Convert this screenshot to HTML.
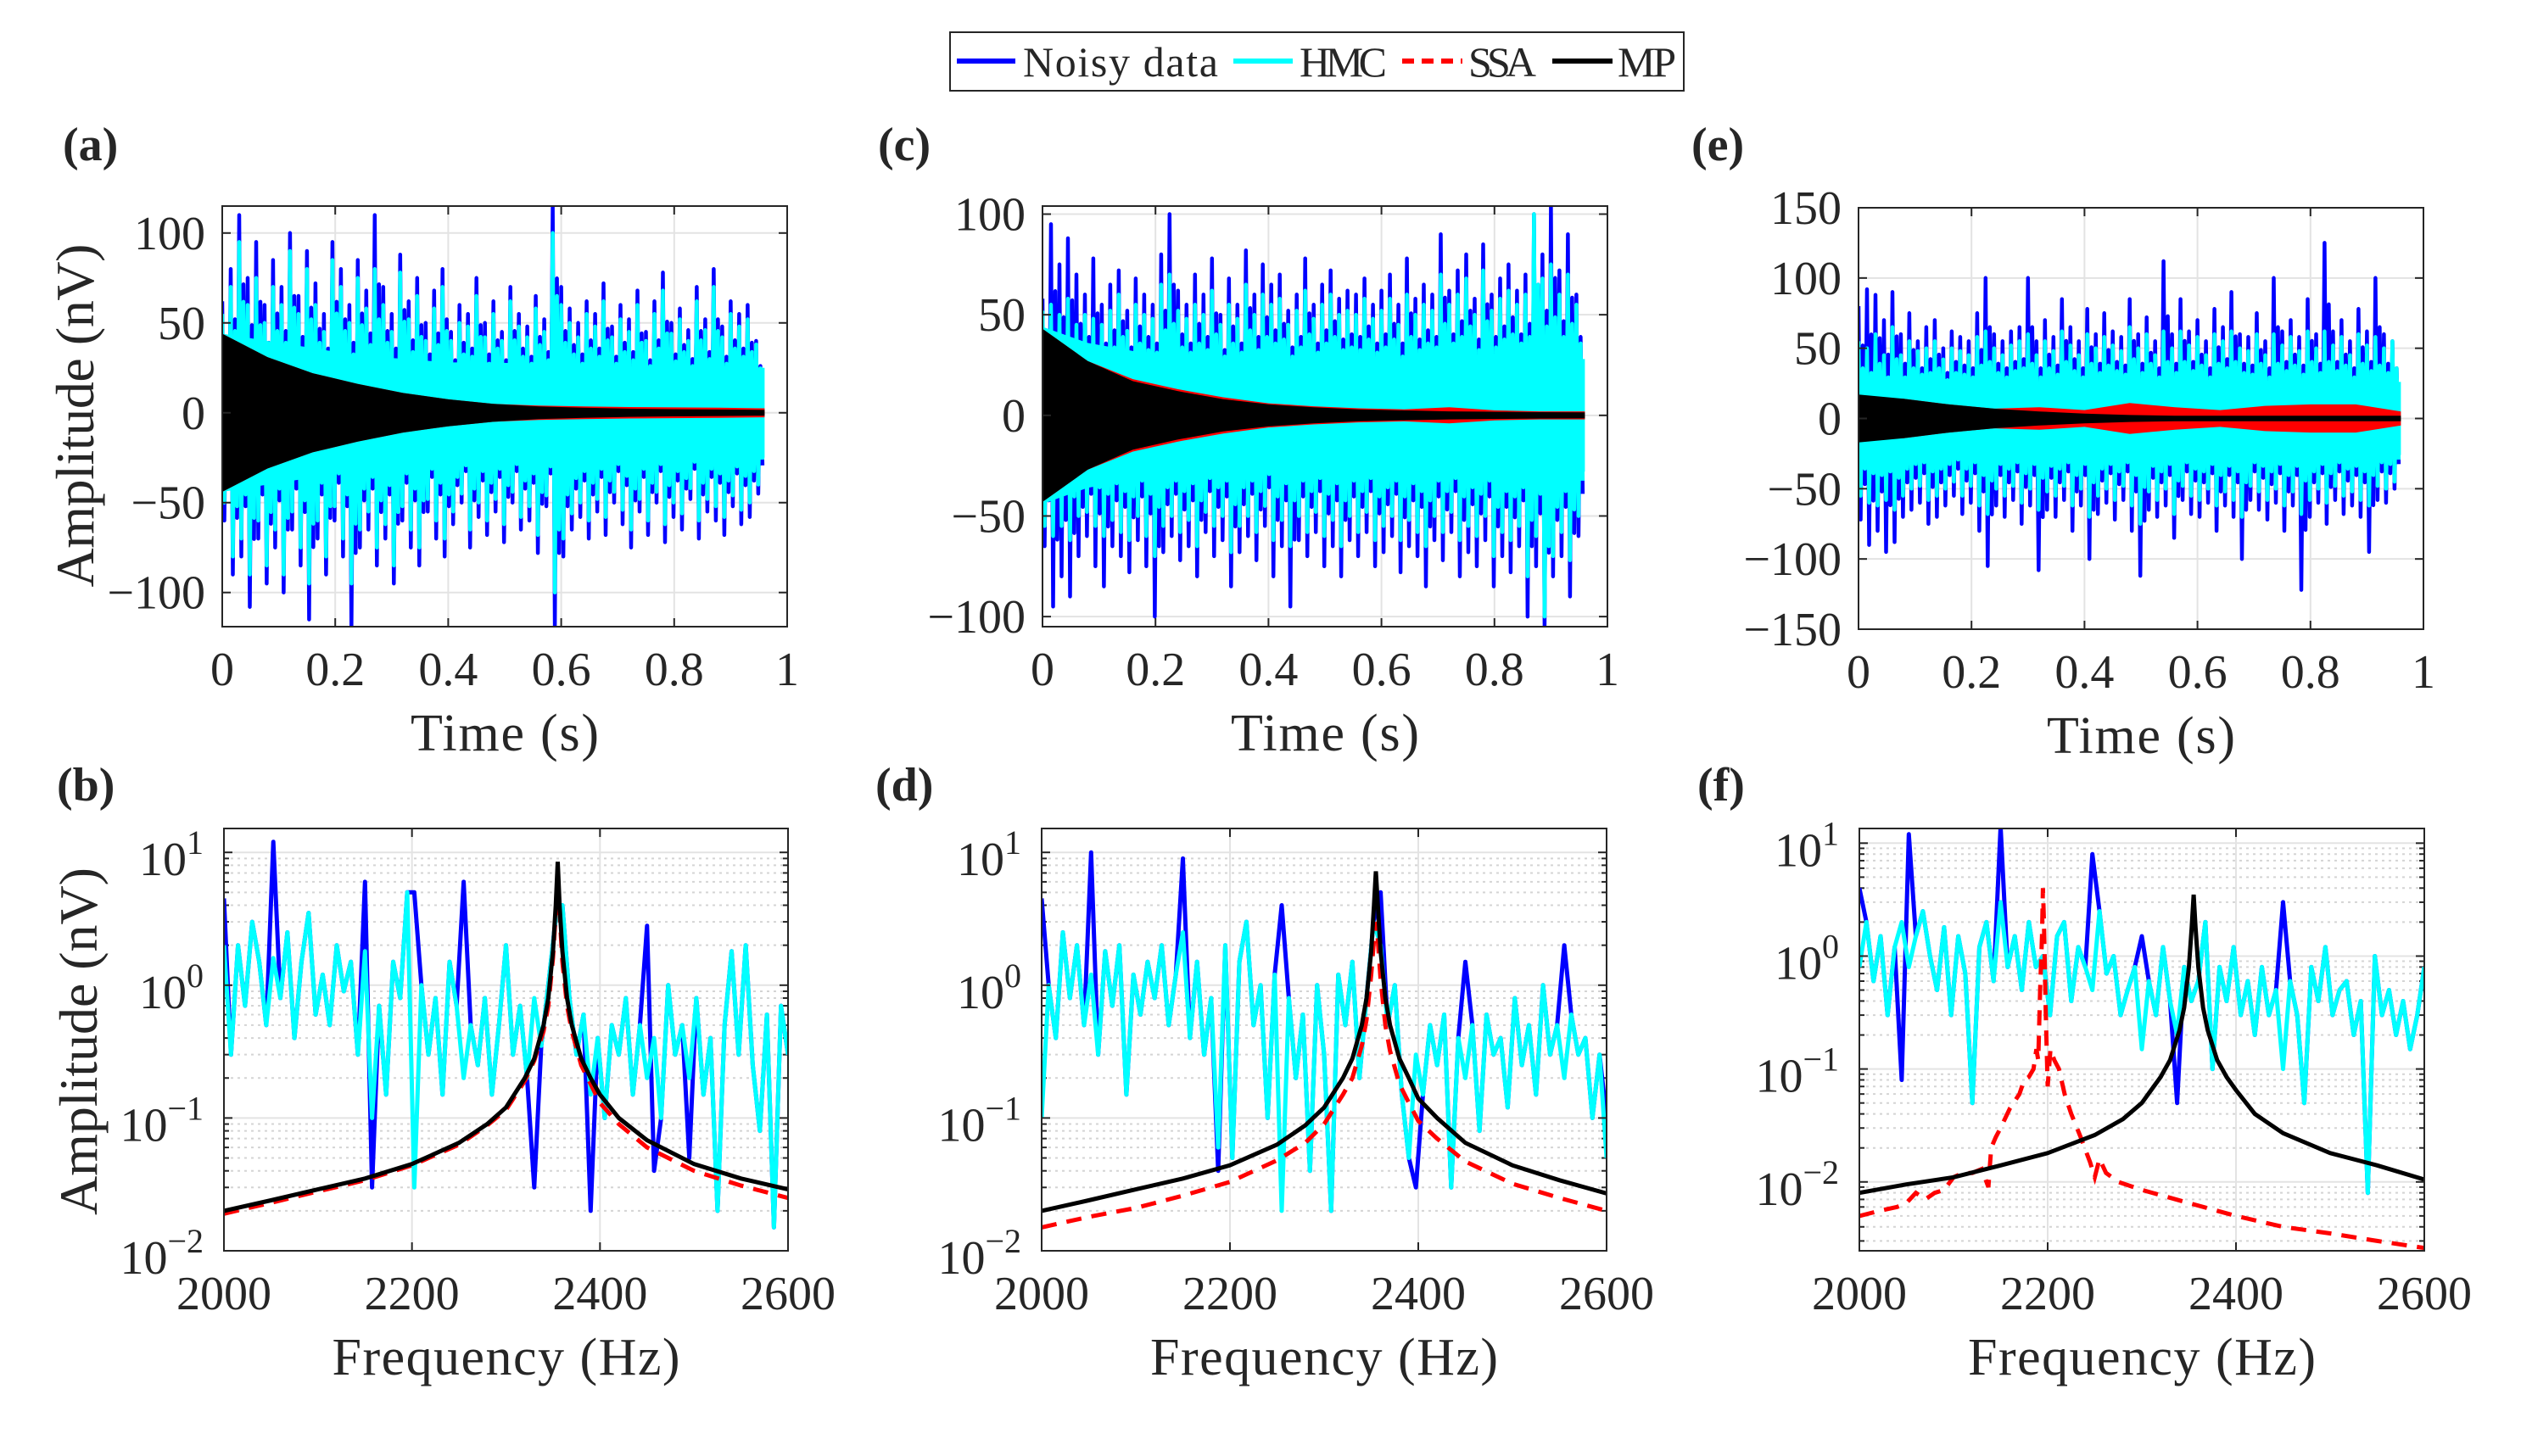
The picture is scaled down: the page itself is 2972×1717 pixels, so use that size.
<!DOCTYPE html>
<html><head><meta charset="utf-8"><style>
html,body{margin:0;padding:0;background:#fff}
svg{display:block}
text{font-family:"Liberation Serif",serif;fill:#262626}
</style></head><body>
<svg id="fig" width="2972" height="1717" viewBox="0 0 2972 1717" xmlns="http://www.w3.org/2000/svg">
<rect x="0" y="0" width="2972" height="1717" fill="#fff"/>
<g>
<rect x="1120" y="38" width="865" height="69" fill="#fff" stroke="#262626" stroke-width="2"/>
<line x1="1128" y1="72" x2="1197" y2="72" stroke="#0000ff" stroke-width="6"/>
<text x="1206" y="90" font-size="50" textLength="230" fill="#000">Noisy data</text>
<line x1="1454" y1="72" x2="1524" y2="72" stroke="#00ffff" stroke-width="6"/>
<text x="1532" y="90" font-size="50" textLength="103" fill="#000">HMC</text>
<line x1="1653" y1="72" x2="1724" y2="72" stroke="#ff0000" stroke-width="6" stroke-dasharray="14 9"/>
<text x="1731" y="90" font-size="50" textLength="80" fill="#000">SSA</text>
<line x1="1830" y1="72" x2="1901" y2="72" stroke="#000" stroke-width="6"/>
<text x="1907" y="90" font-size="50" textLength="69" fill="#000">MP</text>
</g>
</svg>
<script>
// ---------- time-domain data ----------
const timeT = [0,.015,.03,.045,.06,.075,.09,.105,.12,.135,.15,.165,.18,.195,.21,.225,.24,.255,.27,.285,.3,.315,.33,.345,.36,.375,.39,.405,.42,.435,.45,.465,.48,.495,.51,.525,.54,.555,.57,.585,.6,.615,.63,.645,.66,.675,.69,.705,.72,.735,.75,.765,.78,.795,.81,.825,.84,.855,.87,.885,.9,.915,.93,.945];
const envT = [0,.08,.16,.24,.32,.4,.48,.56,.64,.72,.8,.88,.96];

const aNoisyUp = [62,80,110,75,95,60,85,70,100,65,90,72,55,95,80,60,85,68,110,70,55,88,62,75,50,68,80,45,60,55,75,50,62,45,70,55,48,65,52,115,70,58,50,62,55,72,48,60,52,68,45,62,78,50,58,46,70,52,80,48,62,55,60,40];
const aNoisyDn = [-60,-90,-80,-108,-70,-95,-75,-100,-65,-85,-115,-70,-90,-60,-80,-120,-75,-65,-85,-70,-95,-60,-75,-85,-55,-70,-80,-62,-50,-75,-58,-68,-55,-72,-50,-65,-60,-78,-52,-120,-80,-65,-58,-70,-55,-68,-50,-62,-75,-55,-68,-50,-72,-58,-65,-48,-70,-55,-60,-68,-52,-62,-58,-45];
const aHmcUp = [55,70,95,60,75,50,70,60,90,55,80,60,45,85,70,50,75,58,80,60,45,78,52,65,40,58,70,40,50,48,65,42,55,40,62,48,42,58,45,100,60,50,42,55,48,62,42,52,45,60,40,55,68,44,52,40,62,46,70,42,55,48,52,38];
const aHmcDn = [-50,-80,-70,-90,-60,-85,-65,-90,-55,-75,-95,-60,-80,-52,-70,-95,-65,-55,-75,-62,-85,-52,-65,-75,-48,-60,-70,-55,-45,-65,-50,-60,-48,-62,-44,-58,-52,-68,-46,-100,-70,-56,-50,-60,-48,-58,-44,-54,-65,-48,-60,-44,-62,-50,-56,-42,-60,-48,-52,-58,-46,-54,-50,-40];
const aCore = [44,40,36,32,30,28,28,27,27,26,26,26,25];
const aMp = [44,31,22,16,11,7.5,5,3.5,2.8,2.3,2,1.8,1.6];
const aSsa = [44,31,22,16,11,7.5,5,4,3.5,3.2,3,2.8,2.5];

const cNoisyUp = [58,95,75,88,70,60,78,55,65,72,52,68,60,55,80,100,62,55,70,60,78,50,68,55,82,60,75,65,70,52,60,78,55,65,72,58,62,60,68,55,62,70,55,78,58,65,60,90,62,72,80,58,85,60,68,75,62,70,100,80,105,72,90,60];
const cNoisyDn = [-65,-95,-80,-90,-70,-60,-75,-85,-65,-70,-78,-62,-75,-100,-68,-60,-72,-65,-80,-58,-70,-62,-85,-68,-60,-72,-55,-80,-65,-95,-62,-70,-58,-75,-65,-80,-62,-70,-58,-75,-68,-60,-78,-65,-70,-85,-62,-72,-58,-80,-68,-75,-62,-85,-70,-78,-65,-100,-75,-105,-80,-70,-90,-60];
const cHmcUp = [52,55,50,58,45,50,48,45,52,60,42,55,50,48,65,70,52,48,55,50,62,45,55,48,65,50,60,55,58,45,52,62,48,55,60,50,52,50,58,48,52,58,45,60,50,55,52,70,55,60,68,50,72,52,58,62,55,60,100,68,75,60,70,55];
const cHmcDn = [-55,-60,-55,-62,-50,-48,-55,-60,-52,-58,-62,-50,-60,-70,-55,-50,-58,-52,-65,-48,-55,-50,-68,-55,-50,-58,-45,-62,-52,-65,-50,-58,-48,-60,-52,-65,-50,-58,-48,-62,-55,-50,-62,-52,-58,-65,-50,-58,-48,-62,-55,-60,-50,-70,-58,-62,-55,-80,-60,-100,-70,-58,-72,-50];
const cCore = [44,36,32,30,28,28,28,28,28,28,28,28,28];
const cMp = [43,27,17,12,8,5.5,4,3,2.5,2,1.8,1.6,1.5];
const cSsa = [43,27,18,13,9,6,4.5,3.5,3,4,2.5,2,2];

const eNoisyUp = [80,92,88,70,90,60,75,55,65,70,50,62,58,55,75,100,60,55,62,65,100,55,70,58,85,65,55,78,60,75,62,58,85,60,72,55,112,60,85,62,70,55,78,65,90,60,58,75,55,100,62,70,58,85,60,125,62,70,55,78,62,100,60,55];
const eNoisyDn = [-72,-90,-80,-95,-88,-70,-65,-60,-75,-70,-62,-55,-68,-60,-80,-105,-62,-70,-58,-75,-62,-108,-65,-70,-58,-80,-62,-100,-68,-60,-72,-58,-80,-112,-65,-70,-62,-85,-58,-68,-70,-60,-80,-62,-70,-100,-58,-65,-72,-60,-80,-62,-122,-70,-60,-75,-58,-68,-62,-70,-95,-58,-60,-50];
const eHmcUp = [55,50,60,45,65,45,55,48,50,55,42,50,48,45,58,62,50,45,52,55,60,45,55,48,62,52,45,60,50,58,52,48,65,50,60,45,62,50,62,52,58,45,60,55,62,50,48,60,45,60,52,58,48,62,50,62,52,58,45,60,52,58,50,55];
const eHmcDn = [-55,-60,-62,-58,-65,-55,-50,-48,-58,-55,-50,-45,-55,-48,-62,-68,-50,-55,-48,-60,-50,-65,-52,-55,-48,-62,-50,-70,-55,-50,-58,-48,-62,-75,-52,-58,-50,-68,-48,-55,-58,-50,-62,-52,-58,-70,-48,-52,-58,-50,-62,-52,-68,-58,-50,-60,-48,-55,-52,-58,-62,-48,-50,-45];
const eCore = [30,30,28,26,26,26,26,26,26,26,26,26,26];
const eMp = [17,14,10,7,5,3.5,2.5,2,2,2,2,2,2];
const eSsa = [15,14,10,7,8,6,11,8,6,9,10,10,5];

// ---------- spectral data ----------
const specF = [2000,2007.5,2015,2022.5,2030,2037.5,2045,2052.5,2060,2067.5,2075,2082.5,2090,2097.5,2105,2112.5,2120,2127.5,2135,2142.5,2150,2157.5,2165,2172.5,2180,2187.5,2195,2202.5,2210,2217.5,2225,2232.5,2240,2247.5,2255,2262.5,2270,2277.5,2285,2292.5,2300,2307.5,2315,2322.5,2330,2337.5,2345,2352.5,2360,2367.5,2375,2382.5,2390,2397.5,2405,2412.5,2420,2427.5,2435,2442.5,2450,2457.5,2465,2472.5,2480,2487.5,2495,2502.5,2510,2517.5,2525,2532.5,2540,2547.5,2555,2562.5,2570,2577.5,2585,2592.5,2600];

const bHmc = [2,0.3,2,0.7,3,1.5,0.5,1.6,0.8,2.5,0.4,1.5,3.5,0.6,1.2,0.5,2,0.9,1.5,0.3,1.8,0.1,0.7,0.15,1.5,0.8,5,0.03,1,0.3,0.8,0.15,1.5,0.7,0.2,0.5,0.25,0.8,0.15,0.5,2,0.3,0.7,0.2,0.8,0.35,1,3,4,0.8,0.3,0.6,0.15,0.4,0.1,0.5,0.3,0.8,0.15,0.5,0.2,0.4,0.1,1,0.3,0.5,0.2,0.8,0.15,0.4,0.02,0.5,1.8,0.3,2,0.25,0.08,0.6,0.015,0.7,0.3];
const bNoisy = [4.5,0.3,2,0.7,3,1.5,0.5,12,0.8,2.5,0.4,1.5,3.5,0.6,1.2,0.5,2,0.9,1.5,0.3,6,0.03,0.7,0.15,1.5,0.8,5,5,1,0.3,0.8,0.15,1.5,0.7,6,0.5,0.25,0.8,0.15,0.5,2,0.3,0.7,0.2,0.03,0.35,1,3,4,0.8,0.3,0.6,0.02,0.4,0.1,0.5,0.3,0.8,0.15,0.5,2.8,0.04,0.1,1,0.3,0.5,0.05,0.8,0.15,0.4,0.02,0.5,1.8,0.3,2,0.25,0.08,0.6,0.015,0.7,0.3];
const dHmc = [0.1,1,0.4,2.5,0.8,2,0.5,1.2,0.3,1.8,0.7,2,0.15,1.2,0.6,1.5,0.8,2,0.5,1.2,2.5,0.4,1.5,0.3,0.8,0.06,2,0.05,1.5,3,0.5,1,0.1,1.2,0.02,0.8,0.2,0.6,0.04,1,0.3,0.02,1.2,0.5,1.5,0.2,0.8,3,2,0.5,1,0.15,0.05,0.3,0.15,0.5,0.25,0.6,0.03,0.4,0.2,0.5,0.08,0.6,0.3,0.4,0.12,0.8,0.25,0.5,0.15,1,0.3,0.5,0.2,0.6,0.3,0.4,0.1,0.3,0.05];
const dNoisy = [4.5,1,0.4,2.5,0.8,2,0.5,10,0.3,1.8,0.7,2,0.15,1.2,0.6,1.5,0.8,2,0.5,1.2,9,0.4,1.5,0.3,0.8,0.04,2,0.05,1.5,3,0.5,1,0.1,1.2,4,0.8,0.2,0.6,0.04,1,0.3,0.02,1.2,0.5,1.5,0.2,0.8,3,5,0.5,1,0.15,0.05,0.03,0.15,0.5,0.25,0.6,0.03,0.4,1.5,0.5,0.08,0.6,0.3,0.4,0.12,0.8,0.25,0.5,0.15,1,0.3,0.5,2,0.6,0.3,0.4,0.1,0.3,0.1];
const fHmc = [0.8,2,0.6,1.5,0.3,1.2,2,0.8,1.5,2.5,1,0.5,1.8,0.3,1.5,0.7,0.05,1.2,2,0.6,3,0.8,1.5,0.5,2,0.8,1,0.3,1.5,2,0.4,1.2,0.8,0.5,2.5,0.7,1,0.3,0.5,0.8,0.15,0.6,0.3,1.2,0.4,0.2,0.8,0.4,0.6,2,0.1,0.8,0.4,1.2,0.3,0.6,0.2,0.8,0.3,0.5,0.1,0.6,0.3,0.05,0.8,0.4,1.2,0.3,0.5,0.6,0.2,0.4,0.008,1,0.3,0.5,0.2,0.4,0.15,0.3,0.8];
const fNoisy = [4,2,0.6,1.5,0.3,1.2,0.08,12,1.5,2.5,1,0.5,1.8,0.3,1.5,0.7,0.05,1.2,2,0.6,14,0.8,1.5,0.5,2,0.8,1,0.3,1.5,2,0.4,1.2,0.8,8,2.5,0.7,1,0.3,0.5,0.8,1.5,0.6,0.3,1.2,0.4,0.05,0.8,0.4,0.6,2,0.1,0.8,0.4,1.2,0.3,0.6,0.2,0.8,0.3,0.5,3,0.6,0.3,0.05,0.8,0.4,1.2,0.3,0.5,0.6,0.2,0.4,0.008,1,0.3,0.5,0.2,0.4,0.15,0.3,0.8];

const mpF = [2000,2050,2100,2150,2200,2250,2280,2300,2320,2330,2340,2345,2350,2353,2355,2357,2360,2365,2370,2380,2390,2400,2420,2450,2500,2550,2600];
const bMp = [0.02,0.024,0.029,0.035,0.045,0.065,0.09,0.12,0.2,0.28,0.5,0.8,1.8,4,8.5,4,1.8,0.8,0.5,0.28,0.2,0.15,0.1,0.068,0.045,0.035,0.029];
const bSsa = [0.019,0.023,0.028,0.034,0.044,0.063,0.088,0.115,0.19,0.27,0.45,0.7,1.6,3.5,7,3.5,1.5,0.7,0.45,0.25,0.18,0.13,0.09,0.06,0.04,0.031,0.025];
const dMp = [0.02,0.024,0.029,0.035,0.044,0.063,0.088,0.12,0.2,0.28,0.5,0.8,1.8,4,7.2,4,1.8,0.8,0.5,0.28,0.2,0.14,0.1,0.065,0.044,0.034,0.027];
const dSsa = [0.015,0.018,0.021,0.026,0.033,0.048,0.065,0.09,0.15,0.2,0.35,0.55,1.2,2.2,3,2.2,1.1,0.5,0.32,0.18,0.13,0.095,0.07,0.047,0.032,0.025,0.02];
const fMp = [0.008,0.0095,0.011,0.014,0.018,0.026,0.036,0.05,0.085,0.12,0.22,0.35,0.8,1.8,3.5,1.8,0.8,0.35,0.22,0.12,0.085,0.065,0.04,0.027,0.018,0.014,0.0105];
const fSsaF = [2000,2020,2040,2050,2060,2070,2080,2090,2100,2110,2120,2130,2137,2140,2145,2150,2160,2170,2175,2180,2185,2188,2190,2192,2194,2195,2196,2198,2200,2203,2207,2212,2218,2225,2235,2245,2250,2255,2262,2275,2300,2350,2400,2450,2500,2550,2600];
const fSsa = [.005,.0055,.006,.0065,.008,.007,.008,.0085,.011,.012,.012,.013,.009,.02,.025,.03,.045,.06,.08,.085,.1,.15,.12,.5,1.5,4,2,.3,.07,.15,.12,.1,.06,.04,.025,.015,.011,.016,.012,.01,.0085,.0065,.005,.004,.0035,.003,.0026];

const timeTicks = [0,0.2,0.4,0.6,0.8,1];
const timeTickLabels = ["0","0.2","0.4","0.6","0.8","1"];
const freqTicks = [2000,2200,2400,2600];
const freqTickLabels = ["2000","2200","2400","2600"];
const logTicks = [-2,-1,0,1];

const NS = "http://www.w3.org/2000/svg";
const svg = document.getElementById('fig');
const legendNode = svg.querySelector('g');
function el(tag, attrs, parent){
  const e = document.createElementNS(NS, tag);
  for (const k in attrs) e.setAttribute(k, attrs[k]);
  (parent||svg).insertBefore(e, parent ? null : legendNode);
  return e;
}
function pts(arr){ return arr.map(p=>p[0].toFixed(1)+','+p[1].toFixed(1)).join(' '); }
let clipId = 0;

function frame(g, x0,x1,y0,y1, pname){
  const box = el('rect',{x:x0,y:y0,width:x1-x0,height:y1-y0,fill:'none',stroke:'#262626','stroke-width':2},g);
  
  
}
function clipFor(g,x0,x1,y0,y1){
  const id='clip'+(clipId++);
  const cp = el('clipPath',{id:id},g);
  el('rect',{x:x0,y:y0,width:x1-x0,height:y1-y0},cp);
  const cg = el('g',{'clip-path':'url(#'+id+')'},g);
  return cg;
}
function panelLabel(txt,x,y,pname){
  const t = el('text',{x:x,y:y,'font-size':56,'font-weight':'bold',fill:'#000'});
  t.textContent = txt;
  
  
}
function yLabel(cx,cy,len){
  const t = el('text',{x:0,y:0,'font-size':64,'text-anchor':'middle',textLength:len,transform:'translate('+cx+','+cy+') rotate(-90)'});
  t.textContent = 'Amplitude (nV)';
  
  
}

function zig(xs, ys, up, dn){
  const q = (timeT[1]-timeT[0])/4;
  const out=[];
  timeT.forEach((t,i)=>{
    out.push([xs(t),ys(up[i])]);
    out.push([xs(t+q),ys(dn[i])]);
    out.push([xs(t+2*q),ys(up[i]*0.65)]);
    out.push([xs(t+3*q),ys(dn[i]*0.65)]);
  });
  return out;
}

function timePanel(c){
  const g = el('g',{});
  
  
  const xs = t => c.x0 + t*(c.x1-c.x0);
  const ys = v => c.y1 - (v-c.ymin)/(c.ymax-c.ymin)*(c.y1-c.y0);
  timeTicks.forEach(t=>{ if(t>0&&t<1){ const l=el('line',{x1:xs(t),x2:xs(t),y1:c.y0,y2:c.y1,stroke:'#e3e3e3','stroke-width':2},g);
      }});
  c.yticks.forEach(v=>{ const l=el('line',{x1:c.x0,x2:c.x1,y1:ys(v),y2:ys(v),stroke:'#e3e3e3','stroke-width':2},g);
      });
  const cg = clipFor(g,c.x0,c.x1,c.y0,c.y1);
  const nl = el('polyline',{points:pts(zig(xs,ys,c.nUp,c.nDn)),fill:'none',stroke:'#0000ff','stroke-width':4.5,'stroke-linejoin':'round'},cg);
  
  
  const top = envT.map((t,i)=>[xs(t),ys(c.core[i])]);
  const bot = envT.map((t,i)=>[xs(t),ys(-c.core[i])]).reverse();
  const band = el('polygon',{points:pts(top.concat(bot)),fill:'#00ffff'},cg);
  
  
  const hl = el('polyline',{points:pts(zig(xs,ys,c.hUp,c.hDn)),fill:'none',stroke:'#00ffff','stroke-width':4.5,'stroke-linejoin':'round'},cg);
  
  
  const st = envT.map((t,i)=>[xs(t),ys(c.ssa[i])]);
  const sb = envT.map((t,i)=>[xs(t),ys(-c.ssa[i])]).reverse();
  const sp = el('polygon',{points:pts(st.concat(sb)),fill:'#ff0000'},cg);
  
  
  const mt = envT.map((t,i)=>[xs(t),ys(c.mp[i])]);
  const mb = envT.map((t,i)=>[xs(t),ys(-c.mp[i])]).reverse();
  const mp = el('polygon',{points:pts(mt.concat(mb)),fill:'#000'},cg);
  
  
  frame(g,c.x0,c.x1,c.y0,c.y1,c.name);
  timeTicks.forEach((t,i)=>{
    el('line',{x1:xs(t),x2:xs(t),y1:c.y1,y2:c.y1-10,stroke:'#262626','stroke-width':2},g);
    el('line',{x1:xs(t),x2:xs(t),y1:c.y0,y2:c.y0+10,stroke:'#262626','stroke-width':2},g);
    const tl = el('text',{x:xs(t),y:c.y1+69,'font-size':56,'text-anchor':'middle'},g);
    tl.textContent = timeTickLabels[i];
    
    
  });
  c.yticks.forEach(v=>{
    el('line',{x1:c.x0,x2:c.x0+10,y1:ys(v),y2:ys(v),stroke:'#262626','stroke-width':2},g);
    el('line',{x1:c.x1,x2:c.x1-10,y1:ys(v),y2:ys(v),stroke:'#262626','stroke-width':2},g);
    const tl = el('text',{x:c.x0-20,y:ys(v)+19,'font-size':56,'text-anchor':'end'},g);
    tl.textContent = String(v).replace('-','\u2212');
    
    
  });
  const xl = el('text',{x:(c.x0+c.x1)/2,y:c.y1+146,'font-size':62,'text-anchor':'middle',textLength:222},g);
  xl.textContent = 'Time (s)';
  
  
}

function specPanel(c){
  const g = el('g',{});
  
  
  const xs = f => c.x0 + (f-2000)/600*(c.x1-c.x0);
  const yl = l => c.y1 - (l-c.lmin)/(c.lmax-c.lmin)*(c.y1-c.y0);
  const ys = v => yl(Math.log10(v));
  for(let d=-3; d<=1; d++){ for(let m=2;m<=9;m++){ const l=d+Math.log10(m); if(l>c.lmin&&l<c.lmax){
    const gl=el('line',{x1:c.x0,x2:c.x1,y1:yl(l),y2:yl(l),stroke:'#d4d4d4','stroke-width':2,'stroke-dasharray':'3 5'},g);
     
    el('line',{x1:c.x0,x2:c.x0+6,y1:yl(l),y2:yl(l),stroke:'#262626','stroke-width':2},g);
    el('line',{x1:c.x1,x2:c.x1-6,y1:yl(l),y2:yl(l),stroke:'#262626','stroke-width':2},g);
  }}}
  freqTicks.forEach(f=>{ if(f>2000&&f<2600){ const l=el('line',{x1:xs(f),x2:xs(f),y1:c.y0,y2:c.y1,stroke:'#e3e3e3','stroke-width':2},g);
      }});
  logTicks.forEach(v=>{ const l=el('line',{x1:c.x0,x2:c.x1,y1:yl(v),y2:yl(v),stroke:'#e3e3e3','stroke-width':2},g);
      });
  const cg = clipFor(g,c.x0,c.x1,c.y0,c.y1);
  const nl = el('polyline',{points:pts(specF.map((f,i)=>[xs(f),ys(c.noisy[i])])),fill:'none',stroke:'#0000ff','stroke-width':5,'stroke-linejoin':'round'},cg);
  
  
  const hl = el('polyline',{points:pts(specF.map((f,i)=>[xs(f),ys(c.hmc[i])])),fill:'none',stroke:'#00ffff','stroke-width':5,'stroke-linejoin':'round'},cg);
  
  
  const sl = el('polyline',{points:pts(c.ssaF.map((f,i)=>[xs(f),ys(c.ssa[i])])),fill:'none',stroke:'#ff0000','stroke-width':5,'stroke-dasharray':'18 12'},cg);
  
  
  const ml = el('polyline',{points:pts(mpF.map((f,i)=>[xs(f),ys(c.mp[i])])),fill:'none',stroke:'#000','stroke-width':5},cg);
  
  
  frame(g,c.x0,c.x1,c.y0,c.y1,c.name);
  freqTicks.forEach((f,i)=>{
    el('line',{x1:xs(f),x2:xs(f),y1:c.y1,y2:c.y1-10,stroke:'#262626','stroke-width':2},g);
    el('line',{x1:xs(f),x2:xs(f),y1:c.y0,y2:c.y0+10,stroke:'#262626','stroke-width':2},g);
    const tl = el('text',{x:xs(f),y:c.y1+69,'font-size':56,'text-anchor':'middle'},g);
    tl.textContent = freqTickLabels[i];
    
    
  });
  logTicks.forEach(v=>{
    el('line',{x1:c.x0,x2:c.x0+10,y1:yl(v),y2:yl(v),stroke:'#262626','stroke-width':2},g);
    el('line',{x1:c.x1,x2:c.x1-10,y1:yl(v),y2:yl(v),stroke:'#262626','stroke-width':2},g);
    const tl = el('text',{x:c.x0-24,y:yl(v)+27,'font-size':56,'text-anchor':'end'},g);
    
    
    const base = document.createElementNS(NS,'tspan'); base.textContent='10'; tl.appendChild(base);
    const sup = document.createElementNS(NS,'tspan'); sup.setAttribute('dy','-25'); sup.setAttribute('font-size','40');
    sup.textContent = String(v).replace('-','\u2212'); tl.appendChild(sup);
  });
  const xl = el('text',{x:(c.x0+c.x1)/2,y:c.y1+146,'font-size':62,'text-anchor':'middle',textLength:410},g);
  xl.textContent = 'Frequency (Hz)';
  
  
}

timePanel({name:'panel-a',x0:262,x1:928,y0:243,y1:739,ymin:-119,ymax:115,yticks:[-100,-50,0,50,100],nUp:aNoisyUp,nDn:aNoisyDn,hUp:aHmcUp,hDn:aHmcDn,core:aCore,mp:aMp,ssa:aSsa});
timePanel({name:'panel-c',x0:1229,x1:1895,y0:243,y1:739,ymin:-105,ymax:104,yticks:[-100,-50,0,50,100],nUp:cNoisyUp,nDn:cNoisyDn,hUp:cHmcUp,hDn:cHmcDn,core:cCore,mp:cMp,ssa:cSsa});
timePanel({name:'panel-e',x0:2191,x1:2857,y0:245,y1:742,ymin:-150,ymax:150,yticks:[-150,-100,-50,0,50,100,150],nUp:eNoisyUp,nDn:eNoisyDn,hUp:eHmcUp,hDn:eHmcDn,core:eCore,mp:eMp,ssa:eSsa});
specPanel({name:'panel-b',x0:264,x1:929,y0:977,y1:1475,lmin:-2,lmax:1.18,noisy:bNoisy,hmc:bHmc,ssaF:mpF,ssa:bSsa,mp:bMp});
specPanel({name:'panel-d',x0:1228,x1:1894,y0:977,y1:1475,lmin:-2,lmax:1.18,noisy:dNoisy,hmc:dHmc,ssaF:mpF,ssa:dSsa,mp:dMp});
specPanel({name:'panel-f',x0:2192,x1:2858,y0:977,y1:1475,lmin:-2.61,lmax:1.13,noisy:fNoisy,hmc:fHmc,ssaF:fSsaF,ssa:fSsa,mp:fMp});

panelLabel('(a)',74,189,'panel-a');
panelLabel('(c)',1035,189,'panel-c');
panelLabel('(e)',1994,189,'panel-e');
panelLabel('(b)',67,944,'panel-b');
panelLabel('(d)',1032,944,'panel-d');
panelLabel('(f)',2001,944,'panel-f');
yLabel(110,490,405);
yLabel(114,1228,410);
</script>
</body></html>
